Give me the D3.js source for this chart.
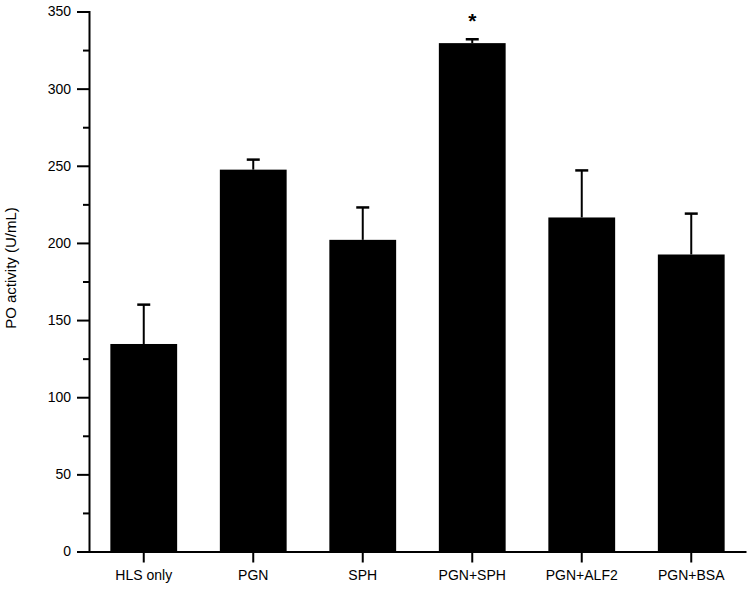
<!DOCTYPE html>
<html>
<head>
<meta charset="utf-8">
<script src="https://cdn.jsdelivr.net/npm/d3@7"></script>
<style>
  body { margin: 0; background: #fff; }
  svg text { font-family: "Liberation Sans", Arial, sans-serif; fill: #000; }
</style>
</head>
<body>
<div id="chart"></div>
<script>
// values
var groups = ["HLS only", "PGN", "SPH", "PGN+SPH", "PGN+ALF2", "PGN+BSA"];
var means = [134.5, 247.5, 202, 329.5, 216.5, 192.5];
var errors = [25.5, 6.5, 21, 2.5, 30.5, 26.5];
var marks = ["", "", "", "*", "", ""];
var yTicks = [0, 50, 100, 150, 200, 250, 300, 350];

var width = 752, height = 590;
var margin = {left: 89, right: 6, top: 11.5, bottom: 38.5};

var svg = d3.select("#chart")
    .append("svg")
    .attr("width", width)
    .attr("height", height);

var x = d3.scaleBand()
    .domain(groups)
    .range([margin.left, width - margin.right])
    .paddingInner(0.39)
    .paddingOuter(0.195);

var y = d3.scaleLinear()
    .domain([0, 350])
    .range([height - margin.bottom, margin.top]);

var data = groups.map((g, i) => ({g: g, v: means[i], e: errors[i], m: marks[i]}));

// bars
svg.selectAll("rect.bar")
    .data(data)
    .enter()
    .append("rect")
    .attr("class", "bar")
    .attr("x", d => x(d.g))
    .attr("y", d => y(d.v))
    .attr("width", x.bandwidth())
    .attr("height", d => y(0) - y(d.v))
    .attr("fill", "#000");

// error bars (upper only)
var err = svg.selectAll("g.err")
    .data(data)
    .enter()
    .append("g")
    .attr("class", "err")
    .attr("stroke", "#000")
    .attr("stroke-width", 2);

err.append("line")
    .attr("x1", d => x(d.g) + x.bandwidth() / 2)
    .attr("x2", d => x(d.g) + x.bandwidth() / 2)
    .attr("y1", d => y(d.v))
    .attr("y2", d => y(d.v + d.e));

err.append("line")
    .attr("x1", d => x(d.g) + x.bandwidth() / 2 - 6.5)
    .attr("x2", d => x(d.g) + x.bandwidth() / 2 + 6.5)
    .attr("y1", d => y(d.v + d.e))
    .attr("y2", d => y(d.v + d.e))
    .attr("stroke-width", 2.5);

// significance marks
svg.selectAll("text.mark")
    .data(data.filter(d => d.m))
    .enter()
    .append("text")
    .attr("class", "mark")
    .attr("x", d => x(d.g) + x.bandwidth() / 2)
    .attr("y", d => y(d.v + d.e) - 11)
    .attr("text-anchor", "middle")
    .style("font-size", "21px")
    .style("font-weight", "bold")
    .text(d => d.m);

// y axis
svg.append("g")
    .attr("transform", "translate(" + margin.left + ",0)")
    .call(d3.axisLeft(y).tickValues(yTicks).tickSize(12).tickPadding(6));

// minor ticks
svg.append("g")
    .attr("transform", "translate(" + margin.left + ",0)")
    .call(d3.axisLeft(y).tickValues(yTicks.slice(1).map(t => t - 25)).tickSize(6).tickFormat(""))
    .call(g => g.select(".domain").remove());

// x axis
svg.append("g")
    .attr("transform", "translate(0," + y(0) + ")")
    .call(d3.axisBottom(x).tickSize(11).tickSizeOuter(0).tickPadding(8));

svg.selectAll(".domain, .tick line")
    .attr("stroke", "#000")
    .attr("stroke-width", 2);

svg.selectAll(".tick text")
    .style("font-size", "14px")
    .style("font-family", "Liberation Sans, Arial, sans-serif");

// y axis label
svg.append("text")
    .attr("transform", "translate(16,268) rotate(-90)")
    .attr("text-anchor", "middle")
    .style("font-size", "15px")
    .text("PO activity (U/mL)");
</script>
</body>
</html>
